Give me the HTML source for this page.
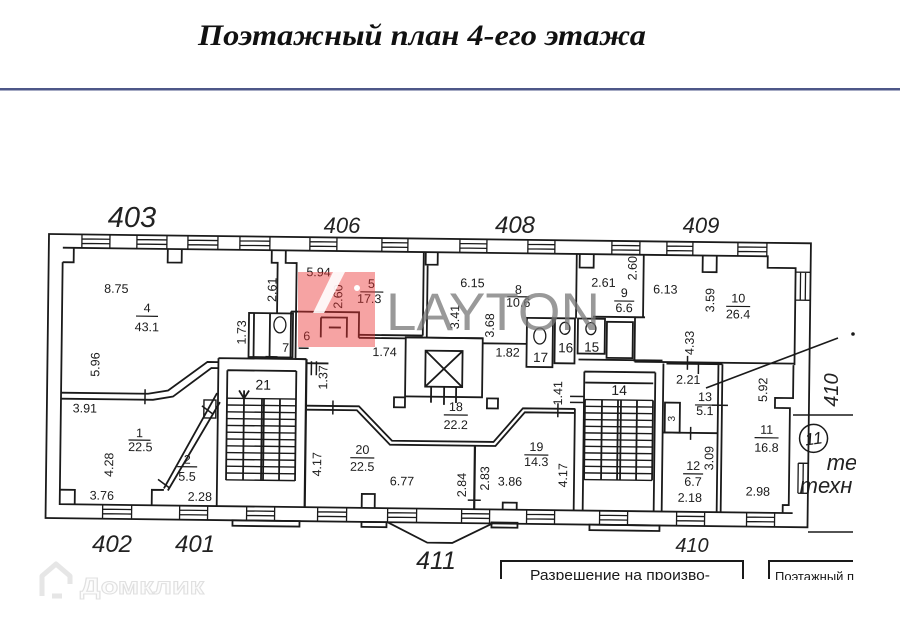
<!DOCTYPE html>
<html><head><meta charset="utf-8"><style>
html,body{margin:0;padding:0;background:#fff;}
svg{display:block;}
</style></head><body>
<svg width="900" height="626" viewBox="0 0 900 626" xmlns="http://www.w3.org/2000/svg">
<rect width="900" height="626" fill="#fff"/>
<text x="198" y="45" font-family="Liberation Serif, serif" font-weight="bold" font-style="italic" font-size="30" fill="#111" textLength="448" lengthAdjust="spacingAndGlyphs">Поэтажный план 4-его этажа</text>
<rect x="0" y="88" width="900" height="2.5" fill="#4d5788"/>

<g font-family="Liberation Sans, sans-serif" font-style="italic" fill="#222" text-anchor="middle">
<text x="132" y="227" font-size="29">403</text>
<text x="342" y="233" font-size="22">406</text>
<text x="515" y="233" font-size="24">408</text>
<text x="701" y="233" font-size="22">409</text>
<text x="112" y="552" font-size="24">402</text>
<text x="195" y="552" font-size="24">401</text>
<text x="436" y="569" font-size="25">411</text>
<text x="692" y="552" font-size="20">410</text>
<text transform="translate(831,390) rotate(-90)" y="7" font-size="20">410</text>
<text x="842" y="470" font-size="22">те</text>
<text x="826" y="493" font-size="22">техн</text>
</g>
<rect x="856" y="440" width="44" height="70" fill="#fff"/>

<g transform="rotate(0.7 48 234)" fill="none" stroke="#1a1a1a" stroke-width="1.8">
<path d="M49 234H811V518H49Z"/>
<path d="M63 262V504H796M63 247.5H768V259H796V356"/>
<path stroke-width="1.3" d="M82 234V247.5M110 234V247.5M82 238.5H110M82 243H110
M137 234V247.5M167 234V247.5M137 238.5H167M137 243H167
M188 234V247.5M218 234V247.5M188 238.5H218M188 243H218
M240 234V247.5M270 234V247.5M240 238.5H270M240 243H270
M310 234V247.5M337 234V247.5M310 238.5H337M310 243H337
M382 234V247.5M408 234V247.5M382 238.5H408M382 243H408
M460 234V247.5M487 234V247.5M460 238.5H487M460 243H487
M528 234V247.5M555 234V247.5M528 238.5H555M528 243H555
M612 234V247.5M640 234V247.5M612 238.5H640M612 243H640
M667 234V247.5M693 234V247.5M667 238.5H693M667 243H693
M738 234V247.5M767 234V247.5M738 238.5H767M738 243H767"/>
<path stroke-width="1.3" d="M106 504V518M135 504V518M106 508.5H135M106 513H135
M183 504V518M211 504V518M183 508.5H211M183 513H211
M250 504V518M278 504V518M250 508.5H278M250 513H278
M321 504V518M350 504V518M321 508.5H350M321 513H350
M391 504V518M420 504V518M391 508.5H420M391 513H420
M465 504V518M493 504V518M465 508.5H493M465 513H493
M530 504V518M558 504V518M530 508.5H558M530 513H558
M603 504V518M631 504V518M603 508.5H631M603 513H631
M680 504V518M708 504V518M680 508.5H708M680 513H708
M750 504V518M778 504V518M750 508.5H778M750 513H778"/>
<path stroke-width="1.3" d="M796 263H811M796 291H811M801 263V291M806 263V291M801 454V484M806 454V484M801 454H811M801 484H811"/>

<path d="M63 262H74V247.5M168 247.5V261H182V247.5M272 247.5V260H278V310M286 247.5V260H297V308.5"/>
<rect x="250" y="310.5" width="44" height="44"/>
<path d="M255 310.5V354.5M271 310.5V354.5"/>
<ellipse cx="281" cy="322" rx="6" ry="8" stroke-width="1.3"/>
<path d="M292 308.5H360V334M292 308.5V356M297 308.5V356M322 314H348V334M322 314V334M330 324H342"/>
<path d="M360 331H424M360 334H407M424 247.5V331M428 260V333M426 247.5V260H438V247.5"/>
<path d="M577 247.5V312M580 247.5V261H594V247.5M484 338H528M407 333H484"/>
<rect x="528" y="312" width="26" height="49"/>
<rect x="556" y="312" width="20" height="45"/>
<rect x="579" y="312" width="27" height="35"/>
<rect x="608" y="315" width="26" height="36"/>
<ellipse cx="541" cy="330" rx="6" ry="8" stroke-width="1.3"/>
<ellipse cx="566" cy="322" rx="5" ry="6" stroke-width="1.3"/>
<ellipse cx="592" cy="322" rx="5" ry="6" stroke-width="1.3"/>
<path d="M594 310H646M644 247.5V310M636 310V354.5M636 354.5H796M703 247.5V264H717V247.5M580 353H664"/>
<path d="M586 365H657M577 402V504M586 365V504M657 365V504M665 356V504M587 376H655M587 393V473M604 393V473M620 393V473M623 393V473M639 393V473M655 393V473"/>
<path stroke-width="1.4" d="M587 393H655M587 399.7H655M587 406.3H655M587 413H655M587 419.7H655M587 426.3H655M587 433H655M587 439.7H655M587 446.3H655M587 453H655M587 459.7H655M587 466.3H655M587 473H655"/>
<rect x="593" y="518" width="70" height="5.5"/>
<path d="M668 356H724M720 356V504M724 356V504M665 425H720M795 356V389H777V399H792V496H786V504"/>
<rect x="667" y="395" width="15" height="30"/>
<circle cx="816" cy="429" r="14" stroke-width="1.5"/>
<path d="M309 402.5H361L394.5 436.5H496L525 402.5H577"/>
<path d="M309 406.5H359L392.5 440.5H498L527 406.5H577"/>
<path stroke-width="2.2" d="M308 356V504M477.5 440.5V504"/>
<path d="M365 504V490H378V504M506 504V497H520V504"/>
<path d="M391 518L431 538H456L496 518"/>
<rect x="365" y="518" width="25" height="5"/>
<rect x="495" y="517" width="26" height="5"/>
<rect x="407" y="333" width="77" height="59"/>
<rect x="427" y="346" width="37" height="36"/>
<path d="M427 346L464 382M464 346L427 382M433 382V398M446 382V400M458 382V398"/>
<rect x="396" y="393" width="11" height="10"/>
<rect x="489" y="393" width="11" height="10"/>
<path d="M220 356H308M220 356V504M229 368H298M229 368V478M298 368V478M246 388V478M264 396V478M266 396V478M282 396V478M241 388L246 396L251 388"/>
<path stroke-width="1.4" d="M229 396H298M229 402.8H298M229 409.6H298M229 416.4H298M229 423.2H298M229 430H298M229 436.8H298M229 443.6H298M229 450.4H298M229 457.2H298M229 464H298M229 470.8H298M229 477.6H298"/>
<rect x="236" y="518" width="67" height="5.5"/>
<path d="M308 360H330M297 356H308"/>
<path d="M63 392.5H150L170 389L209 360H220M63 398.5H155L175 395L213 366H220"/>
<path d="M63 489.5H78V504M155 504V488.5H167M167 487L219 391M171 489L222 400"/>
<path stroke-width="1.4" d="M206 398H218V416H206Z"/>
<path stroke-width="1.5" d="M147 388V403M161 478L172 486M204 404L215 412M335 397V411M560 397V411M471 495H484M313 358V372M318 358V372M572 390H586M572 396H586M693 419V432M714 397H730M700 354V366M689 348V362M267 354H279M300 345H310"/>
<path stroke-width="1.2" d="M137 315H159M361 288H384M508 291H530M615 294H635M727 298H751M697 397H717M757 429H781M686 466H706M446 410H470M353 454H377M527 449H551M131 439H153M180 465H200"/>

<g font-family="Liberation Sans, sans-serif" font-size="12.5" fill="#1a1a1a" stroke="none" text-anchor="middle">
<text x="117" y="292">8.75</text>
<text x="148" y="311">4</text><text x="148" y="330">43.1</text>
<text transform="translate(97,364) rotate(-90)" y="4">5.96</text>
<text transform="translate(243,330) rotate(-90)" y="4">1.73</text>
<text transform="translate(273,287) rotate(-90)" y="4">2.61</text>
<text x="287" y="349">7</text>
<text x="319" y="273">5.94</text>
<text transform="translate(339,293) rotate(-90)" y="4">2.60</text>
<text x="372" y="284">5</text><text x="370" y="299">17.3</text>
<text x="308" y="337">6</text>
<text x="386" y="352">1.74</text>
<text transform="translate(325,374) rotate(-90)" y="4">1.37</text>
<text x="265" y="387" font-size="14">21</text>
<text x="473" y="282">6.15</text>
<text x="519" y="288">8</text><text x="519" y="301">10.6</text>
<text transform="translate(456,312) rotate(-90)" y="4">3.41</text>
<text transform="translate(491,320) rotate(-90)" y="4">3.68</text>
<text x="509" y="351">1.82</text>
<text x="542" y="356" font-size="13.5">17</text>
<text x="567" y="346" font-size="13.5">16</text>
<text x="593" y="345" font-size="13.5">15</text>
<text x="604" y="280">2.61</text>
<text x="625" y="290">9</text><text x="625" y="305">6.6</text>
<text transform="translate(633,261) rotate(-90)" y="4">2.60</text>
<text x="666" y="286">6.13</text>
<text transform="translate(711,292) rotate(-90)" y="4">3.59</text>
<text x="739" y="294">10</text><text x="739" y="310">26.4</text>
<text transform="translate(691,335) rotate(-90)" y="4">4.33</text>
<text x="690" y="376">2.21</text>
<text x="707" y="393">13</text><text x="707" y="407">5.1</text>
<text transform="translate(673,411) rotate(-90)" y="4" font-size="10">3</text>
<text transform="translate(765,381) rotate(-90)" y="4">5.92</text>
<text x="769" y="425">11</text><text x="769" y="443">16.8</text>
<text x="696" y="462">12</text><text x="696" y="478">6.7</text>
<text x="693" y="494">2.18</text>
<text transform="translate(712,450) rotate(-90)" y="4">3.09</text>
<text x="761" y="487">2.98</text>
<text x="621" y="388" font-size="14">14</text>
<text transform="translate(560,387) rotate(-90)" y="4">1.41</text>
<text x="458" y="406">18</text><text x="458" y="424">22.2</text>
<text x="365" y="450">20</text><text x="365" y="467">22.5</text>
<text x="405" y="481">6.77</text>
<text transform="translate(465,480) rotate(-90)" y="4">2.84</text>
<text transform="translate(488,473) rotate(-90)" y="4">2.83</text>
<text x="513" y="480">3.86</text>
<text transform="translate(320,461) rotate(-90)" y="4">4.17</text>
<text x="539" y="445">19</text><text x="539" y="460">14.3</text>
<text transform="translate(566,469) rotate(-90)" y="4">4.17</text>
<text x="87" y="412">3.91</text>
<text x="142" y="436">1</text><text x="143" y="450">22.5</text>
<text transform="translate(112,464) rotate(-90)" y="4">4.28</text>
<text x="105" y="499">3.76</text>
<text x="190" y="462">2</text><text x="190" y="479">5.5</text>
<text x="203" y="499">2.28</text>
<text transform="translate(816,429) rotate(-8)" y="6" font-size="17" font-style="italic">11</text>
</g>
</g>

<g stroke="#1a1a1a" stroke-width="1.6" fill="none">
<path d="M793 415H853M808 532H853M838 338L706 388"/>
<circle cx="853" cy="334" r="1" fill="#1a1a1a"/>
</g>

<g stroke="#1a1a1a" stroke-width="2" fill="none">
<path d="M501 579V561H743V579M769 579V561H853"/>
</g>
<text x="530" y="580" font-family="Liberation Sans, sans-serif" font-size="15" fill="#1a1a1a" textLength="180" lengthAdjust="spacingAndGlyphs">Разрешение на произво-</text>
<text x="775" y="581" font-family="Liberation Sans, sans-serif" font-size="13" fill="#1a1a1a">Поэтажный п</text>
<rect x="0" y="580" width="900" height="46" fill="#fff"/>
<rect x="855" y="555" width="45" height="30" fill="#fff"/>

<rect x="298" y="272" width="77" height="75" fill="rgb(235,50,50)" fill-opacity="0.45"/>
<polygon points="333,272 345,272 324,313 313,313" fill="#fff" fill-opacity="0.9"/>
<circle cx="357" cy="288" r="3" fill="#fff"/>
<text x="386" y="330" font-family="Liberation Sans, sans-serif" font-size="53" fill="#777" fill-opacity="0.75" textLength="214" lengthAdjust="spacingAndGlyphs">LAYTON</text>

<path d="M42 596V576L56 564L70 576V584M52 596H62" fill="none" stroke="#e6e6e6" stroke-width="5" stroke-linejoin="round"/>
<text x="80" y="594" font-family="Liberation Sans, sans-serif" font-weight="bold" font-size="23" fill="#fcfcfc" stroke="#e0e0e0" stroke-width="1" textLength="124" lengthAdjust="spacingAndGlyphs">Домклик</text>
</svg>
</body></html>
